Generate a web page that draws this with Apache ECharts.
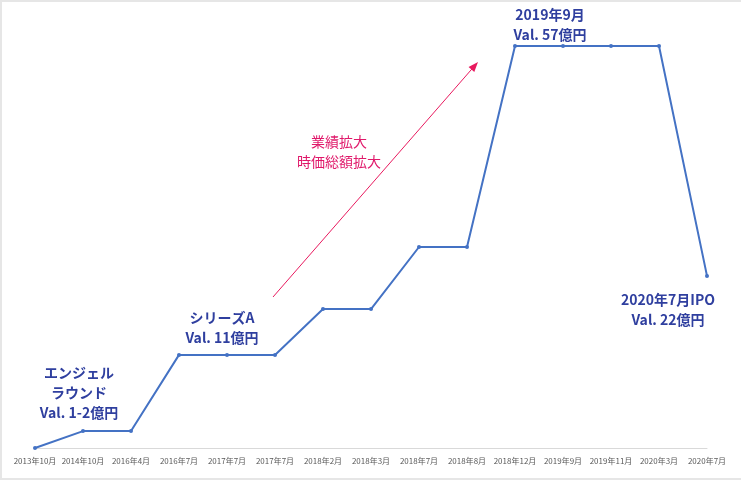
<!DOCTYPE html>
<html><head><meta charset="utf-8">
<script src="https://cdn.jsdelivr.net/npm/echarts@6/dist/echarts.min.js"></script>
<style>html,body{margin:0;padding:0;background:#fff}#c{width:741px;height:482px}</style>
</head><body><div id="c"></div>
<script>
const categories = ['2013年10月','2014年10月','2016年4月','2016年7月','2017年7月','2017年7月','2018年2月','2018年3月','2018年7月','2018年8月','2018年12月','2019年9月','2019年11月','2020年3月','2020年7月'];
const values = [0, 2.4, 2.4, 13.2, 13.2, 13.2, 19.7, 19.7, 28.5, 28.5, 57, 57, 57, 57, 24.4];
const notes = [
  {text:'エンジェル\nラウンド\nVal. 1-2億円', x:79, y:363},
  {text:'シリーズA\nVal. 11億円', x:222, y:308},
  {text:'2019年9月\nVal. 57億円', x:550, y:5},
  {text:'2020年7月IPO\nVal. 22億円', x:668, y:290}
];
const trendText = '業績拡大\n時価総額拡大';

const chart = echarts.init(document.getElementById('c'));
const FONT = '"Noto Sans CJK JP", "Noto Sans", sans-serif';
const ax0 = 273, ay0 = 297, ax1 = 478, ay1 = 62;
const L = Math.hypot(ax1-ax0, ay1-ay0), ux = (ax1-ax0)/L, uy = (ay1-ay0)/L;
const hl = 10, hw = 3.8;
const bx = ax1 - ux*hl, by = ay1 - uy*hl;
const graphics = [
  {type:'rect', shape:{x:1, y:1, width:760, height:478}, style:{fill:'none', stroke:'#e6e6e6', lineWidth:2}, silent:true, z:-1},
  {type:'line', shape:{x1:ax0, y1:ay0, x2:bx+ux*2, y2:by+uy*2}, style:{stroke:'#e8195e', lineWidth:1}},
  {type:'polygon', shape:{points:[[ax1,ay1],[bx - uy*hw, by + ux*hw],[bx + uy*hw, by - ux*hw]]}, style:{fill:'#e8195e'}},
  {type:'text', x:339, y:132, style:{text:trendText, fill:'#e0186a', font:'14px ' + FONT, lineHeight:20, textAlign:'center', align:'center'}}
];
notes.forEach(n => graphics.push({type:'text', x:n.x, y:n.y, style:{text:n.text, fill:'#2f3f9f', font:'bold 14px ' + FONT, lineHeight:20, textAlign:'center', align:'center'}}));

chart.setOption({
  animation:false,
  grid:{left:35, right:34, top:46, bottom:34},
  xAxis:{type:'category', data:categories, boundaryGap:false,
    axisLine:{lineStyle:{color:'#d9d9d9', width:1}}, axisTick:{show:false},
    axisLabel:{interval:0, fontSize:8, color:'#595959', margin:9, fontFamily:FONT}},
  yAxis:{type:'value', min:0, max:57, show:false, splitLine:{show:false}},
  series:[{type:'line', data:values, symbol:'circle', symbolSize:4,
    lineStyle:{color:'#4472c4', width:2}, itemStyle:{color:'#4472c4'}}],
  graphic:graphics
});
</script></body></html>
